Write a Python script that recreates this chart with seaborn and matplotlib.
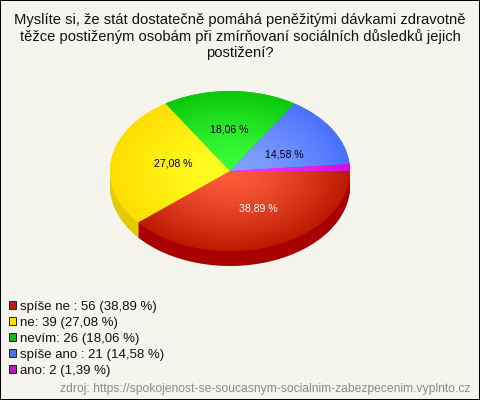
import numpy as np
import matplotlib
matplotlib.use("Agg")
import matplotlib.pyplot as plt
from matplotlib.colors import LinearSegmentedColormap
from matplotlib.patches import Patch
import seaborn as sns

# --- data ---
categories = ["spíše ne", "ne", "nevím", "spíše ano", "ano"]
legend_names = ["spíše ne :", "ne:", "nevím:", "spíše ano :", "ano:"]
counts = [56, 39, 26, 21, 2]
percents = ["38,89", "27,08", "18,06", "14,58", "1,39"]
title = ("Myslíte si, že stát dostatečně pomáhá peněžitými dávkami zdravotně\n"
         "těžce postiženým osobám při zmírňovaní sociálních důsledků jejich\n"
         "postižení?")
source = "zdroj: https://spokojenost-se-soucasnym-socialnim-zabezpecenim.vyplnto.cz"

# --- styles ---
BG = "#F5F5EE"
sns.set_theme(style="white")
plt.rcParams["font.family"] = ["Liberation Sans", "DejaVu Sans"]
base = sns.color_palette(["#BB1A00", "#FFDD00", "#0AC80A", "#4A70FF", "#D010D8"])
inner = sns.color_palette(["#FF5C3C", "#FFFF22", "#3CFF3C", "#84A4FF", "#FF30FF"])
side = sns.color_palette(["#A80000", "#E0CC00", "#089008", "#3850C0", "#9008A0"])
legend_colors = ["#BB2200", "#FFE000", "#10B810", "#4A70F0", "#C010D0"]
label_colors = ["white", "black", "black", "black"]
label_offsets = [(8, 0), (3, 1), (-1, 2), (3, -4)]

W, H = 480, 400
fig = plt.figure(figsize=(W / 100, H / 100), dpi=100, facecolor=BG, edgecolor="black", linewidth=1.44)

# axes: 120 px per x unit, 80 px per y unit; pie centre at pixel (230, 171)
cx, cy, rx, ry = 230, 171, 120, 80
xlim, ylim = (-1.1, 1.1), (-1.4, 1.1)
ax = fig.add_axes([(cx + xlim[0] * rx) / W, (H - cy + ylim[0] * ry) / H,
                   (xlim[1] - xlim[0]) * rx / W, (ylim[1] - ylim[0]) * ry / H])
ax.set_facecolor("none")
flat = dict(linewidth=0, edgecolor="none")

# extruded side: stacked pies, lowest first
depth_px = 15
for off in range(depth_px, 0, -1):
    ax.pie(counts, colors=side, startangle=0, counterclock=False, radius=1,
           center=(0, -off / ry), frame=False, wedgeprops=flat)

# top face
wedges, _ = ax.pie(counts, colors=base, startangle=0, counterclock=False, radius=1,
                   center=(0, 0), frame=False, wedgeprops=flat)

# radial shading clipped to each wedge
g = np.linspace(-1, 1, 400)
xx, yy = np.meshgrid(g, g)
rr = np.clip(np.hypot(xx, yy), 0, 1) ** 1.4
for w, c0, c1 in zip(wedges, inner, base):
    cmap = LinearSegmentedColormap.from_list("s", [c0, c1])
    im = ax.imshow(rr, cmap=cmap, extent=(-1, 1, -1, 1), origin="lower",
                   aspect="auto", vmin=0, vmax=1, zorder=w.get_zorder() + 0.1)
    im.set_clip_path(w)

ax.set_xlim(*xlim)
ax.set_ylim(*ylim)
ax.set_aspect("auto")
ax.axis("off")

# slice labels (small "ano" slice stays unlabelled)
for w, pct, col, off in zip(wedges, percents, label_colors, label_offsets):
    mid = np.deg2rad((w.theta1 + w.theta2) / 2)
    ax.annotate(f"{pct} %", (0.5 * np.cos(mid), 0.5 * np.sin(mid)), xytext=off,
                textcoords="offset pixels", ha="center", va="center",
                fontsize=7.6, color=col, zorder=10)

# title
fig.text(240 / W, 1 - 13 / H, title, ha="center", va="top", fontsize=10.65,
         color="#111111", linespacing=1.16)

# legend
handles = [Patch(facecolor=c, edgecolor="#222222", linewidth=0.7,
                 label=f"{n} {v} ({p} %)")
           for c, n, v, p in zip(legend_colors, legend_names, counts, percents)]
fig.legend(handles=handles, loc="upper left", bbox_to_anchor=(6 / W, 1 - 298 / H),
           bbox_transform=fig.transFigure, frameon=False, fontsize=9.5,
           handlelength=0.55, handleheight=0.55, handletextpad=0.32,
           labelspacing=0.31, borderpad=0.2, borderaxespad=0, labelcolor="#111111")

# source
fig.text(470 / W, 1 - 389 / H, source, ha="right", va="center", fontsize=8.7, color="#8A8A8A")

fig.savefig("out.png", dpi=100)
